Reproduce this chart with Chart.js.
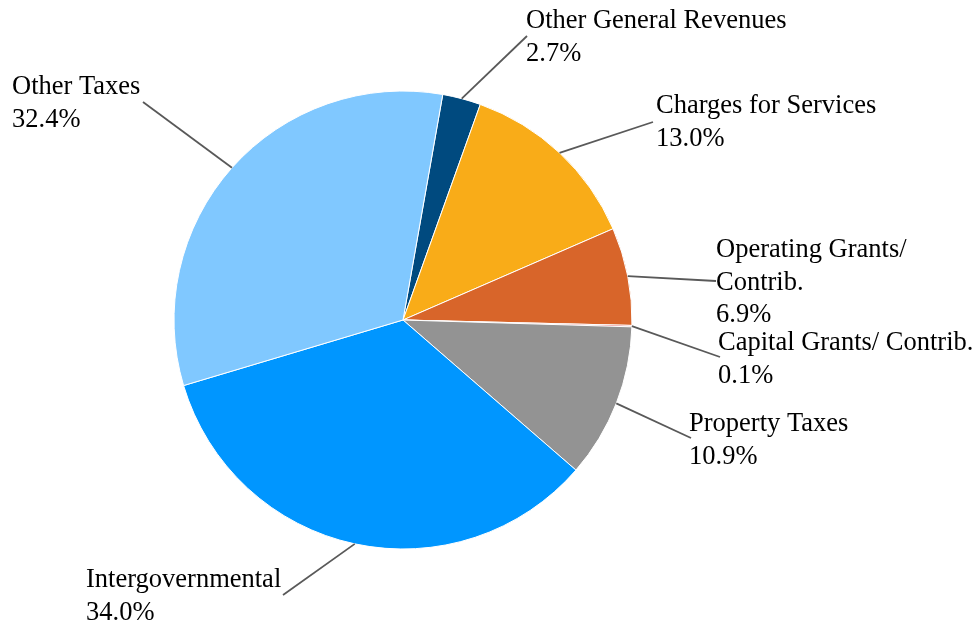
<!DOCTYPE html>
<html>
<head>
<meta charset="utf-8">
<script src="https://cdn.jsdelivr.net/npm/chart.js@4/dist/chart.umd.min.js"></script>
<style>
  html, body { margin: 0; padding: 0; background: #fff; }
  #wrap { width: 979px; height: 625px; }
</style>
</head>
<body>
<div id="wrap"><canvas id="revenueChart" width="979" height="625"></canvas></div>
<script>
// data
const categories = [
    'Other General Revenues',
    'Charges for Services',
    'Operating Grants/ Contrib.',
    'Capital Grants/ Contrib.',
    'Property Taxes',
    'Intergovernmental',
    'Other Taxes',
];
const shares = [2.7, 13.0, 6.9, 0.1, 10.9, 34.0, 32.4];

// label text lines (as in the picture)
const labelLines = [
    ['Other General Revenues'],
    ['Charges for Services'],
    ['Operating Grants/', 'Contrib.'],
    ['Capital Grants/ Contrib.'],
    ['Property Taxes'],
    ['Intergovernmental'],
    ['Other Taxes'],
];

// colors
const sliceColors = ['#004A7F', '#F9AC18', '#D8652A', '#D9262B', '#939393', '#0096FF', '#80C8FF'];

// label placement: left x, first baseline y, leader line end point
const labelLayout = [
    { x: 526, y: 28, lx: 527, ly: 36 },
    { x: 656, y: 113, lx: 653, ly: 122 },
    { x: 716, y: 257, lx: 716, ly: 281 },
    { x: 718, y: 350, lx: 720, ly: 357 },
    { x: 689, y: 431, lx: 691, ly: 438 },
    { x: 86, y: 587, lx: 283, ly: 595 },
    { x: 12, y: 94, lx: 143, ly: 102 },
];

const outsideLabels = {
    id: 'outsideLabels',
    afterDraw(chart) {
        const ctx = chart.ctx;
        const arcs = chart.getDatasetMeta(0).data;
        ctx.save();
        arcs.forEach((arc, i) => {
            const pos = labelLayout[i];
            const mid = (arc.startAngle + arc.endAngle) / 2;
            const ax = arc.x + Math.cos(mid) * arc.outerRadius;
            const ay = arc.y + Math.sin(mid) * arc.outerRadius;
            ctx.strokeStyle = '#595959';
            ctx.lineWidth = 1.8;
            ctx.beginPath();
            ctx.moveTo(ax, ay);
            ctx.lineTo(pos.lx, pos.ly);
            ctx.stroke();

            ctx.fillStyle = '#000';
            ctx.font = '26.5px "Liberation Serif", "Times New Roman", serif';
            ctx.textAlign = 'left';
            ctx.textBaseline = 'alphabetic';
            const lines = labelLines[i].concat([shares[i].toFixed(1) + '%']);
            lines.forEach((t, k) => ctx.fillText(t, pos.x, pos.y + k * 32.5));
        });
        ctx.restore();
    },
};

const ctx = document.getElementById('revenueChart').getContext('2d');
new Chart(ctx, {
    type: 'pie',
    data: {
        labels: categories,
        datasets: [
            {
                data: shares,
                backgroundColor: sliceColors,
                borderColor: '#ffffff',
                borderWidth: 1,
            },
        ],
    },
    options: {
        responsive: false,
        animation: false,
        rotation: 10,
        radius: 229,
        layout: {
            padding: { left: 174, right: 347, top: 91, bottom: 76 },
        },
        plugins: {
            legend: { display: false },
            tooltip: { enabled: false },
        },
    },
    plugins: [outsideLabels],
});
</script>
</body>
</html>
